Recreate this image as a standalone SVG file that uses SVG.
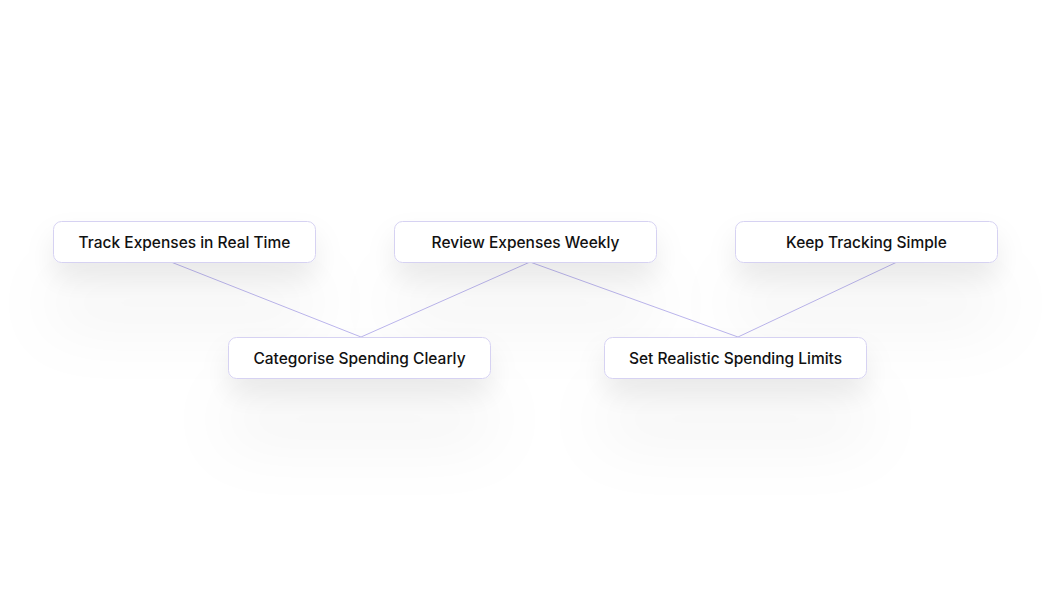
<svg xmlns="http://www.w3.org/2000/svg" width="1050" height="600" viewBox="0 0 1050 600">
<style>
.box{fill:#ffffff;stroke:#d6d2f2;stroke-width:1}
.lbl{font-family:Inter,"Noto Sans",sans-serif;font-size:15.5px;font-weight:500;fill:#111111;text-anchor:middle;dominant-baseline:central}
.edge{stroke:#bcb6ee;stroke-width:1;fill:none}
</style>
<defs>
<filter id="sh" x="-50%" y="-100%" width="200%" height="500%">
<feDropShadow dx="0" dy="16" stdDeviation="14" flood-color="#000000" flood-opacity="0.08"/>
<feDropShadow dx="0" dy="60" stdDeviation="32" flood-color="#000000" flood-opacity="0.05"/>
</filter>
</defs>
<rect width="1050" height="600" fill="#ffffff"/>
<g id="connectors">
<line class="edge" x1="171" y1="262" x2="361" y2="337"/>
<line class="edge" x1="530" y1="262" x2="361" y2="337"/>
<line class="edge" x1="530" y1="262" x2="738" y2="337"/>
<line class="edge" x1="897" y1="262" x2="738" y2="337"/>
</g>
<g id="n1"><rect class="box" filter="url(#sh)" x="53.5" y="221.5" width="262" height="41" rx="8"/><text class="lbl" x="184.5" y="242">Track Expenses in Real Time</text></g>
<g id="n2"><rect class="box" filter="url(#sh)" x="394.5" y="221.5" width="262" height="41" rx="8"/><text class="lbl" x="525.5" y="242">Review Expenses Weekly</text></g>
<g id="n3"><rect class="box" filter="url(#sh)" x="735.5" y="221.5" width="262" height="41" rx="8"/><text class="lbl" x="866.5" y="242">Keep Tracking Simple</text></g>
<g id="n4"><rect class="box" filter="url(#sh)" x="228.5" y="337.5" width="262" height="41" rx="8"/><text class="lbl" x="359.5" y="358">Categorise Spending Clearly</text></g>
<g id="n5"><rect class="box" filter="url(#sh)" x="604.5" y="337.5" width="262" height="41" rx="8"/><text class="lbl" x="735.5" y="358">Set Realistic Spending Limits</text></g>
</svg>
